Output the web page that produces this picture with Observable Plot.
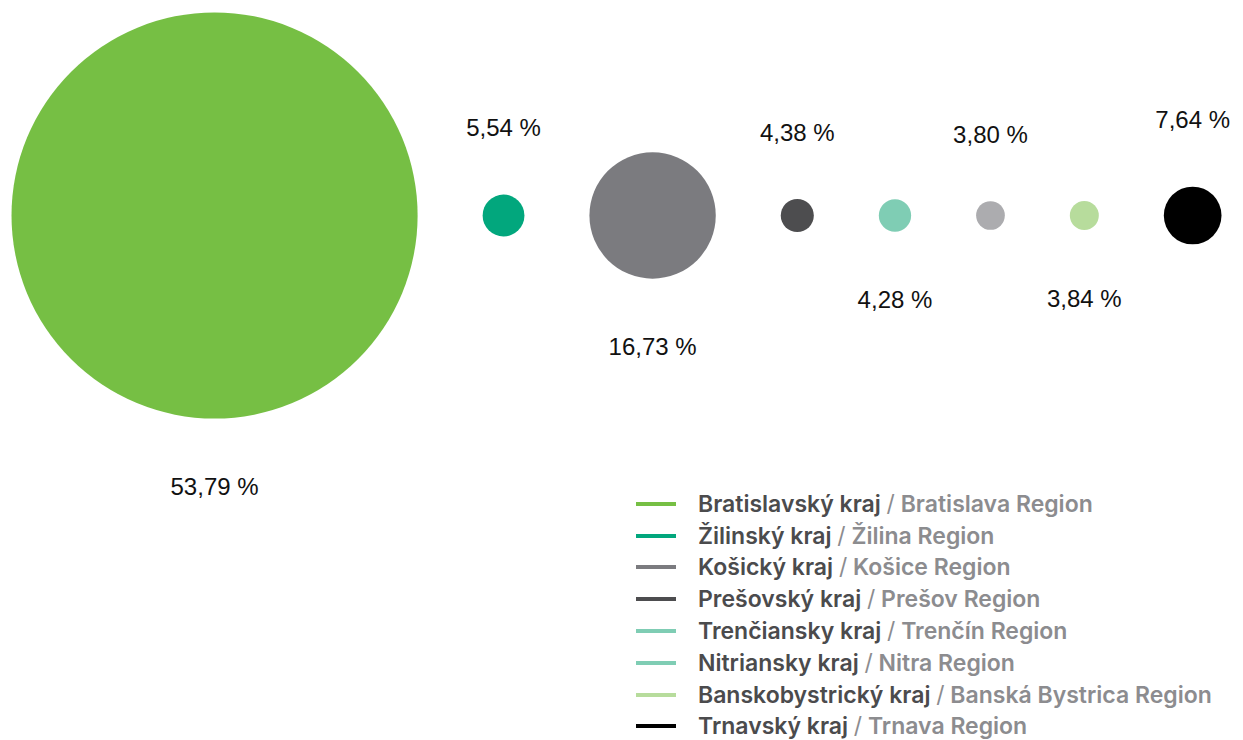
<!DOCTYPE html>
<html>
<head>
<meta charset="utf-8">
<script src="https://cdn.jsdelivr.net/npm/d3@7"></script>
<script src="https://cdn.jsdelivr.net/npm/@observablehq/plot@0.6"></script>
<style>
  html, body { margin: 0; padding: 0; background: #fff; }
  body { position: relative; width: 1243px; height: 740px; overflow: hidden; }
  #chart svg { display: block; }
  .legend { position: absolute; left: 636px; top: 488px; font-family: Inter, "Noto Sans", sans-serif; font-weight: 600; font-size: 23px; letter-spacing: 0px; }
  .row { display: flex; align-items: center; height: 31.8px; white-space: nowrap; }
  .sw { width: 40px; height: 4px; margin-right: 22px; flex: none; }
  .sk { color: #4b4b4d; }
  .en { color: #8c8c8f; }
  .sl { font-weight: 400; }
</style>
</head>
<body>
<div id="chart"></div>
<div class="legend" id="legend"></div>
<script>
const regionsSk = ["Bratislavský kraj", "Žilinský kraj", "Košický kraj", "Prešovský kraj", "Trenčiansky kraj", "Nitriansky kraj", "Banskobystrický kraj", "Trnavský kraj"];
const regionsEn = ["Bratislava Region", "Žilina Region", "Košice Region", "Prešov Region", "Trenčín Region", "Nitra Region", "Banská Bystrica Region", "Trnava Region"];
const values = [53.79, 5.54, 16.73, 4.38, 4.28, 3.80, 3.84, 7.64];
const valueLabels = ["53,79 %", "5,54 %", "16,73 %", "4,38 %", "4,28 %", "3,80 %", "3,84 %", "7,64 %"];
const circleColors = ["#76bf44", "#02a77d", "#7b7b7f", "#4d4d4f", "#7fcdb4", "#acacaf", "#b7dc9c", "#000000"];
const legendColors = ["#76bf44", "#02a77d", "#7b7b7f", "#4d4d4f", "#7fcdb4", "#7fcdb4", "#b7dc9c", "#000000"];

// layout constants (pixels per percentage point of radius, gaps)
const W = 1243, H = 510, k = 3.775, cy = 215, gapPx = 65, leftPx = 11;
const gap = gapPx / k;

let cum = leftPx / k;
const data = values.map((v, i) => {
  const cx = cum + v;
  cum = cx + v + gap;
  const above = i % 2 === 1;
  return {
    region: regionsSk[i],
    value: v,
    label: valueLabels[i],
    color: circleColors[i],
    x: cx,
    ly: above ? -(v + 66 / k) : (v + 69 / k)
  };
});

const chart = Plot.plot({
  width: W,
  height: H,
  margin: 0,
  x: {domain: [0, W / k], range: [0, W], axis: null},
  y: {domain: [-cy / k, (H - cy) / k], range: [0, H], axis: null},
  r: {type: "linear", domain: [0, 1], range: [0, k]},
  style: {fontFamily: "'Liberation Sans', Arial, sans-serif", background: "transparent"},
  marks: [
    Plot.dot(data, {x: "x", y: () => 0, r: "value", fill: "color", stroke: null, sort: null}),
    Plot.text(data, {x: "x", y: "ly", text: "label", fontSize: 24, fill: "#111", textAnchor: "middle"})
  ]
});
document.getElementById("chart").appendChild(chart);

const legend = document.getElementById("legend");
regionsSk.forEach((sk, i) => {
  const row = document.createElement("div");
  row.className = "row";
  row.innerHTML = `<span class="sw" style="background:${legendColors[i]}"></span><span><span class="sk">${sk}</span><span class="en"> <span class="sl">/</span> ${regionsEn[i]}</span></span>`;
  legend.appendChild(row);
});
</script>
</body>
</html>
